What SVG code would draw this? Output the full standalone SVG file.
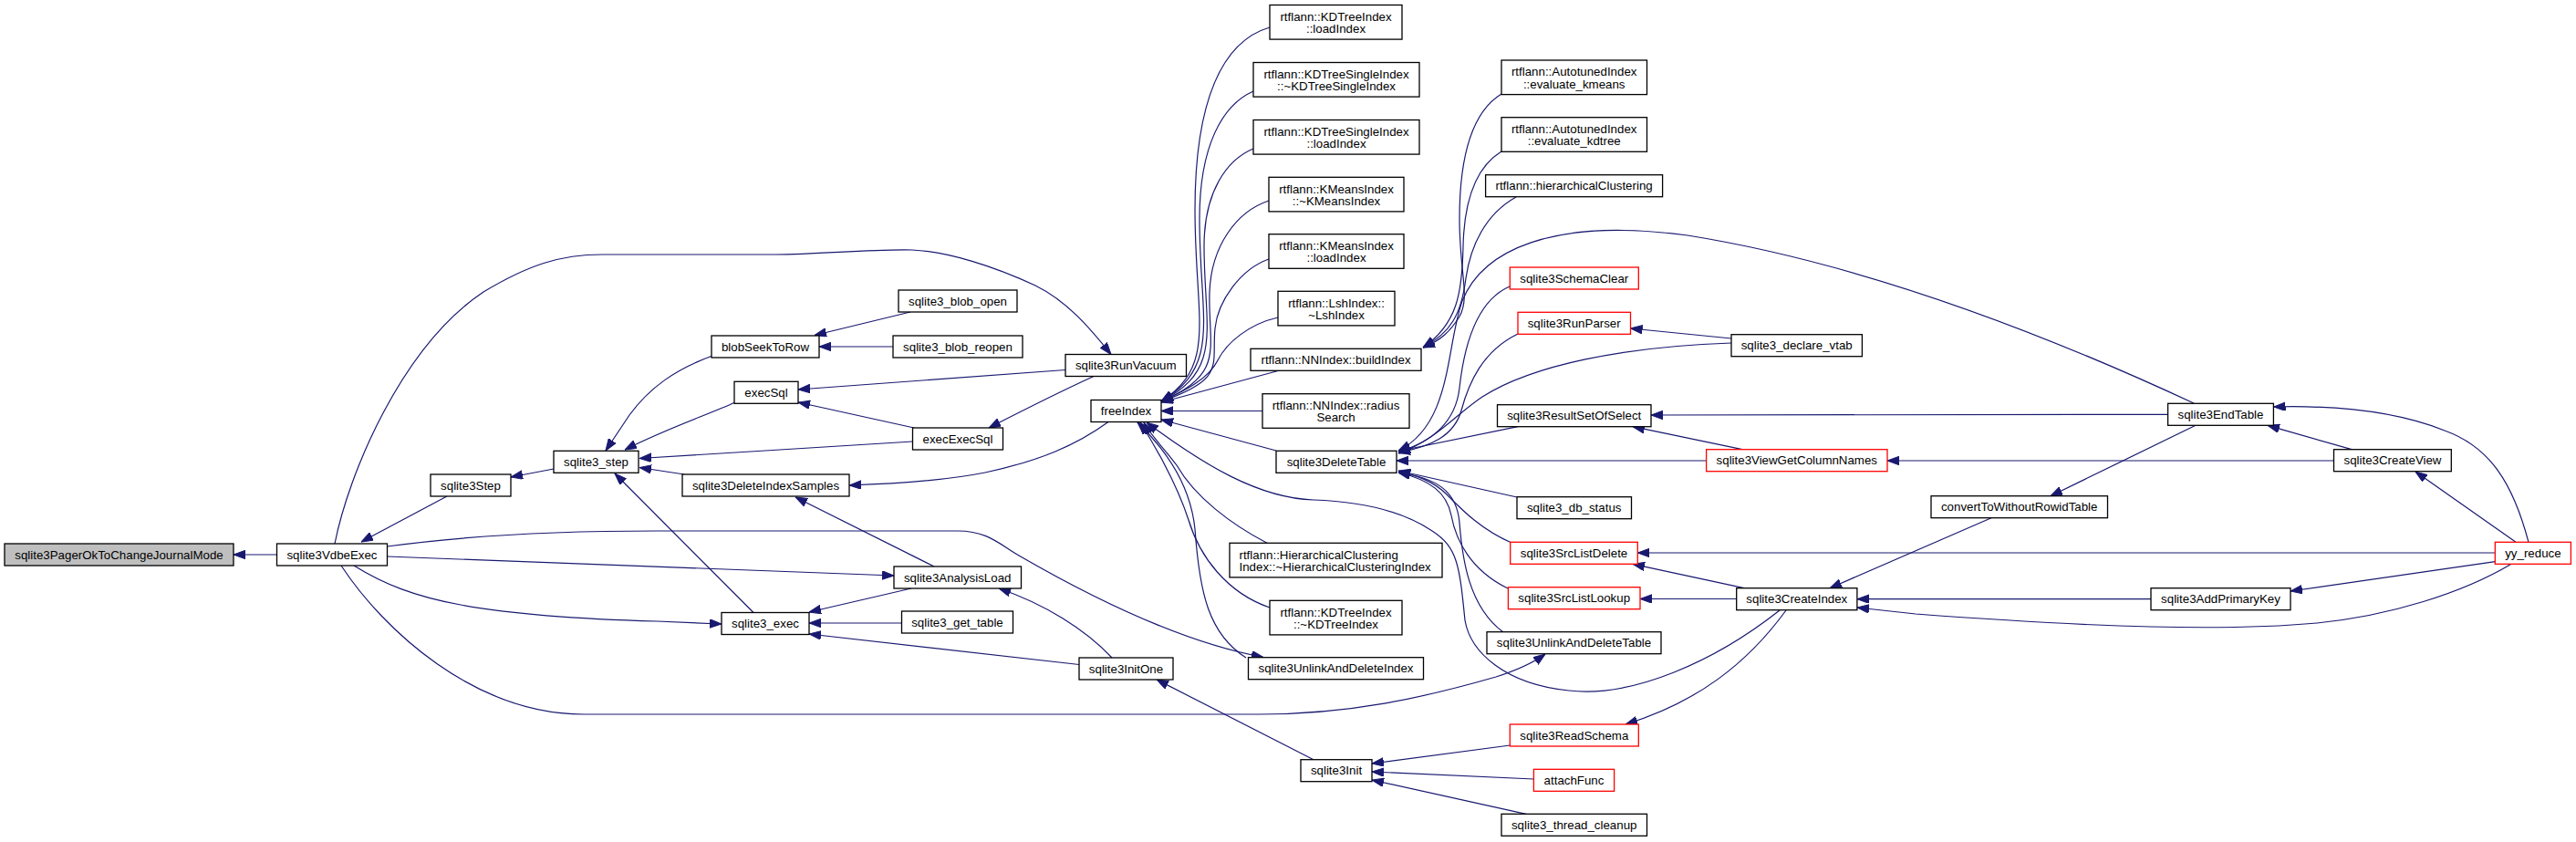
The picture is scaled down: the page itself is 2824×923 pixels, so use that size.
<svg xmlns="http://www.w3.org/2000/svg" width="2824" height="923" viewBox="0 0 2824 923">
<defs>
<marker id="ah" markerWidth="13" markerHeight="10" refX="13" refY="4.75" orient="auto" markerUnits="userSpaceOnUse"><path d="M0,0 L13,4.75 L0,9.5 z" fill="#191970" stroke="#191970" stroke-width="1"/></marker>
</defs>
<style>
.n rect{fill:#fff;stroke:#000;stroke-width:1.3}
.n.r rect{stroke:#f00}
.n.s rect{fill:#bfbfbf}
.n text{font-family:"Liberation Sans",Arial,Helvetica,sans-serif;font-size:13.3px;fill:#000;text-anchor:middle}
.n text.l{text-anchor:start}
#edges path{fill:none;stroke:#191970;stroke-width:1.2;marker-end:url(#ah)}
</style>
<rect width="2824" height="923" fill="#fff"/>
<g id="edges">
<path d="M303.5,608 L256,608"/>
<path d="M490,544 L396,594"/>
<path d="M607,514 L560,523"/>
<path d="M781,390 C740,405 712,425 690,455 C680,470 672,482 664,494"/>
<path d="M806,441 C775,455 730,470 685,493"/>
<path d="M1000.5,484 L701,502.5"/>
<path d="M750,520 L701,512.5"/>
<path d="M826,671.5 L674,519"/>
<path d="M998,342 L893,367.5"/>
<path d="M979,380 L898,380"/>
<path d="M1168,405.5 L875,427"/>
<path d="M1199,412.5 C1165,428 1125,448 1084,469"/>
<path d="M1002,469 L875,441"/>
<path d="M367,596 C382,520 440,380 530,320 C580,290 615,279 660,279 L850,279 C900,279 950,273 1000,274 C1040,276 1090,292 1135,313 C1170,330 1195,360 1218,388.5"/>
<path d="M1215,462.5 C1180,488 1140,505 1080,518 C1040,526 990,530 931,532"/>
<path d="M1024,621 L872,545"/>
<path d="M424.5,610 L980,631"/>
<path d="M388,620 C420,640 455,654 505,663 C565,674 650,679 720,681 L791,684"/>
<path d="M424.5,599 C520,586 620,582 720,582 L1050,582 C1082,582 1095,596 1117,609 C1200,657 1300,705 1385,720.5"/>
<path d="M374,620 C420,690 520,783 640,783 L1380,783 C1480,783 1560,765 1640,742 C1662,735 1680,727 1694,717"/>
<path d="M999,645 L887,671"/>
<path d="M988.5,683 L887,683"/>
<path d="M1183,728.5 L887,695"/>
<path d="M1219,721 C1190,690 1145,662 1095,645"/>
<path d="M1440,832.7 L1268,745"/>
<path d="M1392,30 C1340,45 1310,110 1310,230 C1310,350 1335,400 1273,440"/>
<path d="M1374,100 C1340,115 1315,160 1315,240 C1315,350 1340,400 1273,440"/>
<path d="M1374,163 C1345,175 1320,210 1320,270 C1320,360 1342,405 1273,440"/>
<path d="M1391,220 C1355,232 1328,270 1326,320 C1324,380 1345,410 1273,440"/>
<path d="M1391,284 C1360,295 1335,330 1332,360 C1328,400 1345,415 1273,440"/>
<path d="M1401,348 C1370,355 1345,375 1335,395 C1325,415 1300,428 1273,440"/>
<path d="M1403,406 L1273,441"/>
<path d="M1384,450.5 L1273,450.5"/>
<path d="M1399,494 L1273,460"/>
<path d="M1389,595.3 C1350,575 1310,545 1290,510 C1275,490 1262,478 1254,463"/>
<path d="M1392,666 C1345,650 1315,610 1303,570 C1290,530 1270,495 1250,463"/>
<path d="M1366,721 C1325,695 1315,650 1310,580 C1305,530 1275,490 1247,463"/>
<path d="M1951,669 C1880,725 1790,765 1720,757 C1650,750 1612,715 1606,680 C1600,620 1598,600 1570,582 C1540,562 1500,550 1440,548 C1380,546 1320,510 1257,463"/>
<path d="M1646,103 C1610,125 1600,180 1600,240 C1600,300 1612,325 1600,347 C1590,363 1580,373 1560,381"/>
<path d="M1646,166 C1615,185 1605,225 1604,270 C1603,320 1598,355 1560,381"/>
<path d="M1662,216 C1628,235 1612,270 1607,305 C1602,345 1590,365 1560,381"/>
<path d="M1655,314 C1618,330 1605,380 1600,425 C1596,462 1570,485 1533,495"/>
<path d="M1664,366 C1625,385 1610,420 1602,450 C1594,478 1568,490 1533,496"/>
<path d="M1898,376 C1780,380 1680,400 1625,435 C1595,455 1575,482 1533,497"/>
<path d="M2405,442 C2250,370 2050,290 1850,258 C1700,238 1625,275 1603,330 C1585,380 1592,465 1533,494"/>
<path d="M1664,467.7 L1533,494.5"/>
<path d="M1870.6,505 L1531,505"/>
<path d="M1663,545 L1533,516"/>
<path d="M1657,595 C1622,580 1600,556 1585,541 C1570,527 1555,522 1533,517"/>
<path d="M1653,645 C1612,625 1596,592 1591,565 C1586,540 1568,526 1533,518"/>
<path d="M1648,693 C1610,665 1603,612 1600,573 C1597,538 1575,524 1533,518"/>
<path d="M1898,371 L1787.5,360"/>
<path d="M2376.6,454.3 L1810,455"/>
<path d="M1910,492.7 L1790,467.7"/>
<path d="M2558.5,505 L2069,505"/>
<path d="M2735.3,606 L1795.3,606"/>
<path d="M1912,644.7 L1790,618.3"/>
<path d="M1903.7,656.5 L1798,656.5"/>
<path d="M1958,669 C1915,728 1860,770 1782,794"/>
<path d="M1655.3,817 L1504,837"/>
<path d="M1681.4,854 L1504,846"/>
<path d="M1673,892.3 L1504,855"/>
<path d="M2183,567.7 L2006,644.7"/>
<path d="M2358,656.7 L2036,656.7"/>
<path d="M2753,618.3 C2700,650 2620,675 2540,683 C2440,692 2300,688 2100,673 L2036,666"/>
<path d="M2407,466.3 L2248,543.7"/>
<path d="M2578,492.7 L2486,466.3"/>
<path d="M2772,594.3 C2755,530 2730,490 2680,472 C2630,452 2570,444 2492.5,446"/>
<path d="M2758,594.3 L2648,517"/>
<path d="M2735.3,615.7 L2511,648"/>
</g>
<g id="n1" class="n s"><rect x="5" y="596" width="251" height="24"/><text x="130.5" y="612.5">sqlite3PagerOkToChangeJournalMode</text></g>
<g id="n2" class="n"><rect x="303.5" y="596" width="121" height="24"/><text x="364" y="612.5">sqlite3VdbeExec</text></g>
<g id="n3" class="n"><rect x="472" y="520" width="88" height="24"/><text x="516" y="536.5">sqlite3Step</text></g>
<g id="n4" class="n"><rect x="607" y="494.3" width="93" height="24"/><text x="653.5" y="510.8">sqlite3_step</text></g>
<g id="n5" class="n"><rect x="780" y="368" width="118" height="24"/><text x="839" y="384.5">blobSeekToRow</text></g>
<g id="n6" class="n"><rect x="805" y="418.3" width="70" height="24"/><text x="840" y="434.8">execSql</text></g>
<g id="n7" class="n"><rect x="748" y="520" width="183" height="24"/><text x="839.5" y="536.5">sqlite3DeleteIndexSamples</text></g>
<g id="n8" class="n"><rect x="791" y="671.5" width="96" height="24"/><text x="839" y="688">sqlite3_exec</text></g>
<g id="n9" class="n"><rect x="985" y="318" width="130" height="24"/><text x="1050" y="334.5">sqlite3_blob_open</text></g>
<g id="n10" class="n"><rect x="979" y="368" width="142" height="24"/><text x="1050" y="384.5">sqlite3_blob_reopen</text></g>
<g id="n11" class="n"><rect x="1000.5" y="469" width="99" height="24"/><text x="1050" y="485.5">execExecSql</text></g>
<g id="n12" class="n"><rect x="980" y="621" width="139.5" height="24"/><text x="1049.7" y="637.5">sqlite3AnalysisLoad</text></g>
<g id="n13" class="n"><rect x="988.5" y="670" width="122" height="24"/><text x="1049.5" y="686.5">sqlite3_get_table</text></g>
<g id="n14" class="n"><rect x="1168" y="388.5" width="132.5" height="24"/><text x="1234.2" y="405">sqlite3RunVacuum</text></g>
<g id="n15" class="n"><rect x="1196" y="438.5" width="77" height="24"/><text x="1234.5" y="455">freeIndex</text></g>
<g id="n16" class="n"><rect x="1183" y="721" width="103" height="24"/><text x="1234.5" y="737.5">sqlite3InitOne</text></g>
<g id="n17" class="n"><rect x="1392" y="5.5" width="145" height="37.6"/><text x="1464.5" y="22.8">rtflann::KDTreeIndex</text><text x="1464.5" y="36.1">::loadIndex</text></g>
<g id="n18" class="n"><rect x="1374" y="68.5" width="182" height="37.6"/><text x="1465" y="85.8">rtflann::KDTreeSingleIndex</text><text x="1465" y="99.1">::~KDTreeSingleIndex</text></g>
<g id="n19" class="n"><rect x="1374" y="131.5" width="182" height="37.6"/><text x="1465" y="148.8">rtflann::KDTreeSingleIndex</text><text x="1465" y="162.1">::loadIndex</text></g>
<g id="n20" class="n"><rect x="1391" y="194.3" width="148" height="37.6"/><text x="1465" y="211.6">rtflann::KMeansIndex</text><text x="1465" y="224.9">::~KMeansIndex</text></g>
<g id="n21" class="n"><rect x="1391" y="256.7" width="148" height="37.6"/><text x="1465" y="274">rtflann::KMeansIndex</text><text x="1465" y="287.3">::loadIndex</text></g>
<g id="n22" class="n"><rect x="1401" y="319.3" width="128" height="37.6"/><text x="1465" y="336.6">rtflann::LshIndex::</text><text x="1465" y="349.9">~LshIndex</text></g>
<g id="n23" class="n"><rect x="1371" y="382.3" width="187" height="24"/><text x="1464.5" y="398.8">rtflann::NNIndex::buildIndex</text></g>
<g id="n24" class="n"><rect x="1384" y="431.7" width="161" height="37.6"/><text x="1464.5" y="449">rtflann::NNIndex::radius</text><text x="1464.5" y="462.3">Search</text></g>
<g id="n25" class="n"><rect x="1399" y="494.3" width="132" height="24"/><text x="1465" y="510.8">sqlite3DeleteTable</text></g>
<g id="n26" class="n"><rect x="1348" y="595.3" width="233" height="37.6"/><text class="l" x="1358.5" y="612.6">rtflann::HierarchicalClustering</text><text class="l" x="1358.5" y="625.9">Index::~HierarchicalClusteringIndex</text></g>
<g id="n27" class="n"><rect x="1392" y="658.3" width="145" height="37.6"/><text x="1464.5" y="675.6">rtflann::KDTreeIndex</text><text x="1464.5" y="688.9">::~KDTreeIndex</text></g>
<g id="n28" class="n"><rect x="1368.5" y="720.7" width="192" height="24"/><text x="1464.5" y="737.2">sqlite3UnlinkAndDeleteIndex</text></g>
<g id="n29" class="n"><rect x="1426" y="832.7" width="78" height="24"/><text x="1465" y="849.2">sqlite3Init</text></g>
<g id="n30" class="n"><rect x="1646" y="66" width="159.5" height="37.6"/><text x="1725.7" y="83.3">rtflann::AutotunedIndex</text><text x="1725.7" y="96.6">::evaluate_kmeans</text></g>
<g id="n31" class="n"><rect x="1646" y="128.7" width="159.5" height="37.6"/><text x="1725.7" y="146">rtflann::AutotunedIndex</text><text x="1725.7" y="159.3">::evaluate_kdtree</text></g>
<g id="n32" class="n"><rect x="1628.6" y="191.7" width="194" height="24"/><text x="1725.6" y="208.2">rtflann::hierarchicalClustering</text></g>
<g id="n33" class="n r"><rect x="1655.3" y="293" width="141" height="24"/><text x="1725.8" y="309.5">sqlite3SchemaClear</text></g>
<g id="n34" class="n r"><rect x="1664" y="342.3" width="123.5" height="24"/><text x="1725.7" y="358.8">sqlite3RunParser</text></g>
<g id="n35" class="n"><rect x="1641.5" y="443.7" width="168.5" height="24"/><text x="1725.7" y="460.2">sqlite3ResultSetOfSelect</text></g>
<g id="n36" class="n"><rect x="1663" y="544.7" width="125.5" height="24"/><text x="1725.7" y="561.2">sqlite3_db_status</text></g>
<g id="n37" class="n r"><rect x="1655.7" y="594.3" width="139.6" height="24"/><text x="1725.5" y="610.8">sqlite3SrcListDelete</text></g>
<g id="n38" class="n r"><rect x="1653.4" y="643.7" width="144.6" height="24"/><text x="1725.7" y="660.2">sqlite3SrcListLookup</text></g>
<g id="n39" class="n"><rect x="1630" y="692.7" width="191" height="24"/><text x="1725.5" y="709.2">sqlite3UnlinkAndDeleteTable</text></g>
<g id="n40" class="n r"><rect x="1655.3" y="794" width="141" height="24"/><text x="1725.8" y="810.5">sqlite3ReadSchema</text></g>
<g id="n41" class="n r"><rect x="1681.4" y="843.3" width="88.2" height="24"/><text x="1725.5" y="859.8">attachFunc</text></g>
<g id="n42" class="n"><rect x="1646" y="892.3" width="159.5" height="24"/><text x="1725.7" y="908.8">sqlite3_thread_cleanup</text></g>
<g id="n43" class="n"><rect x="1898" y="366.7" width="143.4" height="24"/><text x="1969.7" y="383.2">sqlite3_declare_vtab</text></g>
<g id="n44" class="n r"><rect x="1870.6" y="492.7" width="198.4" height="24"/><text x="1969.8" y="509.2">sqlite3ViewGetColumnNames</text></g>
<g id="n45" class="n"><rect x="1903.7" y="644.7" width="132.2" height="24"/><text x="1969.8" y="661.2">sqlite3CreateIndex</text></g>
<g id="n46" class="n"><rect x="2117" y="543.7" width="193.5" height="24"/><text x="2213.7" y="560.2">convertToWithoutRowidTable</text></g>
<g id="n47" class="n"><rect x="2376.6" y="442.3" width="115.8" height="24"/><text x="2434.5" y="458.8">sqlite3EndTable</text></g>
<g id="n48" class="n"><rect x="2358" y="644.7" width="153" height="24"/><text x="2434.5" y="661.2">sqlite3AddPrimaryKey</text></g>
<g id="n49" class="n"><rect x="2558.5" y="492.7" width="128.8" height="24"/><text x="2623" y="509.2">sqlite3CreateView</text></g>
<g id="n50" class="n r"><rect x="2735.3" y="594.3" width="83.1" height="24"/><text x="2776.9" y="610.8">yy_reduce</text></g>
</svg>
